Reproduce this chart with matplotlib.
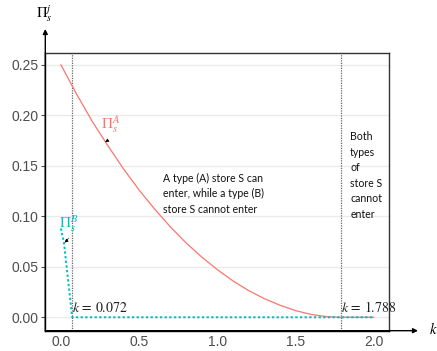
import matplotlib
matplotlib.use("Agg")
import matplotlib.pyplot as plt

plt.rcParams['mathtext.fontset'] = 'stix'

# Profit of a type (A) store S as a function of k
k_a = [0.0, 0.1, 0.2, 0.3, 0.4, 0.5, 0.6, 0.7, 0.8, 0.9, 1.0, 1.1, 1.2,
       1.3, 1.4, 1.5, 1.6, 1.7, 1.788, 2.0]
pi_a = [0.250, 0.221, 0.194, 0.170, 0.147, 0.126, 0.107, 0.0895, 0.0737,
        0.0597, 0.0472, 0.0360, 0.0265, 0.0185, 0.0120, 0.0066, 0.0028,
        0.0006, 0.0, 0.0]

# Profit of a type (B) store S as a function of k
k_b = [0.0, 0.02, 0.072, 2.0]
pi_b = [0.088, 0.073, 0.0, 0.0]

thresholds = [0.072, 1.788]
threshold_labels = ["$k\\,=\\,0.072$", "$k\\,=\\,1.788$"]
y_ticks = [0.00, 0.05, 0.10, 0.15, 0.20, 0.25]
x_ticks = [0.0, 0.5, 1.0, 1.5, 2.0]

red = "#F8766D"
cyan = "#00BFC4"
W, H = 437, 351

fig = plt.figure(figsize=(W / 100, H / 100), dpi=100)
left, right, bottom, top = 45.3, 389.3, 330.7, 52.7
ax = fig.add_axes([left / W, 1 - bottom / H, (right - left) / W, (bottom - top) / H])

ax.set_xlim(-0.1, 2.1)
ax.set_ylim(-0.0133, 0.262)

ax.set_yticks(y_ticks)
ax.set_yticklabels([f"{v:.2f}" for v in y_ticks])
ax.set_xticks(x_ticks)
ax.set_xticklabels([f"{v:.1f}" for v in x_ticks])
ax.tick_params(axis='both', labelsize=10, labelcolor="#4D4D4D", colors="#4D4D4D",
               width=0.8)
ax.tick_params(axis='y', length=3, pad=2)
ax.tick_params(axis='x', length=0, pad=3)
for lab in ax.get_xticklabels() + ax.get_yticklabels():
    lab.set_fontfamily("Liberation Sans")

ax.yaxis.grid(True, color="#EBEBEB", lw=1.0)
ax.xaxis.grid(False)
ax.set_axisbelow(True)

for side in ['left', 'bottom']:
    ax.spines[side].set_color("black")
    ax.spines[side].set_linewidth(1.0)
for side in ['top', 'right']:
    ax.spines[side].set_color("#333333")
    ax.spines[side].set_linewidth(1.0)

for t in thresholds:
    ax.axvline(t, color="#666666", lw=0.9, ls=(0, (1, 1)), zorder=1)

ax.plot(k_a, pi_a, color=red, lw=0.9, zorder=3)
ax.plot(k_b, pi_b, color=cyan, lw=1.4, ls=(0, (1.2, 1.2)), zorder=4)

for t, lab in zip(thresholds, threshold_labels):
    ax.text(t, 0.0025, lab, fontsize=10, ha='left', va='bottom', color="#222222", zorder=5)

ax.annotate("$\\Pi_s^A$", xy=(0.283, 0.1734), xytext=(0.318, 0.190),
            fontsize=11, color=red, ha='center', va='center',
            arrowprops=dict(arrowstyle='-|>', connectionstyle='arc3,rad=-0.4',
                            color='black', lw=0.5, mutation_scale=5,
                            shrinkA=1, shrinkB=0))
ax.annotate("$\\Pi_s^B$", xy=(0.023, 0.074), xytext=(0.047, 0.0925),
            fontsize=11, color=cyan, ha='center', va='center',
            arrowprops=dict(arrowstyle='-|>', connectionstyle='arc3,rad=-0.4',
                            color='black', lw=0.5, mutation_scale=5,
                            shrinkA=1, shrinkB=0))

ax.text(0.655, 0.143, "A type (A) store S can\nenter, while a type (B)\nstore S cannot enter",
        fontsize=7.6, family="Lato", ha='left', va='top', linespacing=1.5, color="#111111")
ax.text(1.85, 0.184, "Both\ntypes\nof\nstore S\ncannot\nenter",
        fontsize=7.6, family="Lato", ha='left', va='top', linespacing=1.5, color="#111111")

# Axis arrows extending beyond the frame
arrow = dict(arrowstyle='-|>', color='black', lw=1.0, mutation_scale=7, shrinkA=0, shrinkB=0)
fig.add_artist(matplotlib.patches.FancyArrowPatch(
    (left / W, 1 - bottom / H), (left / W, 1 - 29 / H),
    transform=fig.transFigure, **arrow))
fig.add_artist(matplotlib.patches.FancyArrowPatch(
    (left / W, 1 - bottom / H), (418 / W, 1 - bottom / H),
    transform=fig.transFigure, **arrow))

fig.text(44 / W, 1 - 14 / H, "$\\Pi_s^j$", fontsize=10.5, ha='center', va='center')
fig.text(433 / W, 1 - 329 / H, "$k$", fontsize=10.5, ha='center', va='center')

fig.savefig("out.png", dpi=100)
